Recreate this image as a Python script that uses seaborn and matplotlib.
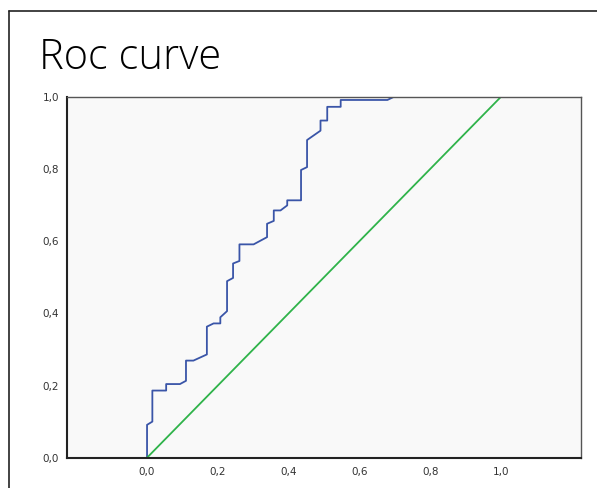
import matplotlib
matplotlib.use("Agg")
import matplotlib.pyplot as plt
import seaborn as sns
from matplotlib.lines import Line2D
from matplotlib.ticker import FuncFormatter

# ROC curve points (1 - specificity, sensitivity)
fpr = [0.0, 0.0, 0.015, 0.015, 0.054, 0.054, 0.093, 0.110, 0.110, 0.131,
       0.169, 0.169, 0.188, 0.207, 0.207, 0.226, 0.226, 0.243, 0.243, 0.261,
       0.261, 0.301, 0.339, 0.339, 0.358, 0.358, 0.377, 0.396, 0.396, 0.435,
       0.435, 0.452, 0.452, 0.490, 0.490, 0.509, 0.509, 0.547, 0.547, 0.679,
       0.698, 1.0]
tpr = [0.0, 0.091, 0.100, 0.186, 0.186, 0.204, 0.204, 0.213, 0.269, 0.269,
       0.286, 0.363, 0.372, 0.372, 0.389, 0.406, 0.489, 0.498, 0.538, 0.545,
       0.591, 0.591, 0.611, 0.648, 0.656, 0.685, 0.685, 0.699, 0.713, 0.713,
       0.797, 0.805, 0.880, 0.906, 0.934, 0.934, 0.972, 0.972, 0.991, 0.991,
       1.0, 1.0]
ref_x = [0.0, 1.0]
ref_y = [0.0, 1.0]
ticks = [0.0, 0.2, 0.4, 0.6, 0.8, 1.0]

sns.set_style("white")
plt.rcParams['font.family'] = ['DejaVu Sans']

fig = plt.figure(figsize=(5.97, 4.88), dpi=100)
ax = fig.add_axes([0.1117, 0.0621, 0.861, 0.7397])
ax.set_facecolor('#f9f9f9')

# estimator=None so the repeated x values of the steps are kept as drawn
sns.lineplot(x=fpr, y=tpr, sort=False, estimator=None, color='#3a55a8',
             linewidth=1.3, ax=ax)
sns.lineplot(x=ref_x, y=ref_y, sort=False, estimator=None, color='#2fb34a',
             linewidth=1.3, ax=ax)

ax.set_xlim(-0.227, 1.225)
ax.set_ylim(0, 1.0)
ax.set_xticks(ticks)
ax.set_yticks(ticks)
comma = FuncFormatter(lambda v, p: f"{v:.1f}".replace('.', ','))
ax.xaxis.set_major_formatter(comma)
ax.yaxis.set_major_formatter(comma)
ax.tick_params(axis='both', direction='out', length=4, width=1.2,
               labelsize=7.5, colors='#333333', pad=1.5)
ax.tick_params(axis='x', pad=3)

for side in ['left', 'bottom']:
    ax.spines[side].set_color('#222222')
    ax.spines[side].set_linewidth(1.5)
for side in ['top', 'right']:
    ax.spines[side].set_color('#555555')
    ax.spines[side].set_linewidth(1.0)
    ax.spines[side].set_visible(True)

fig.text(0.066, 0.858, "Roc curve", fontsize=30, family='Open Sans',
         fontweight='light', color='#000000', va='baseline')

# slide frame
fig.add_artist(Line2D([9 / 597, 9 / 597], [0, 1 - 10.7 / 488],
                      transform=fig.transFigure, color='#222222', linewidth=1.2))
fig.add_artist(Line2D([9 / 597, 1], [1 - 10.7 / 488, 1 - 10.7 / 488],
                      transform=fig.transFigure, color='#222222', linewidth=1.2))

fig.savefig('out.png', dpi=100)
plt.close()
